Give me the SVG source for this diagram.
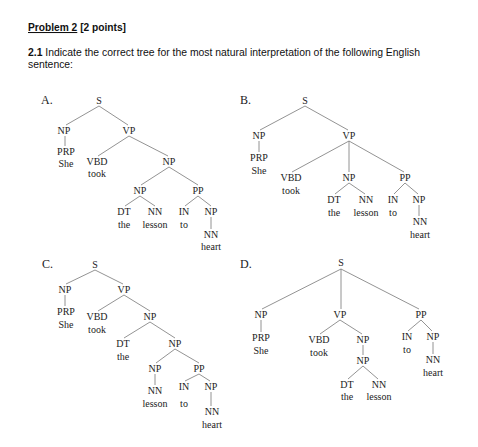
<svg xmlns="http://www.w3.org/2000/svg" width="478" height="447" viewBox="0 0 478 447">
<style>
.h{font-family:"Liberation Sans",Arial,sans-serif;font-size:10.4px;fill:#111}
.b{font-weight:bold}
.t{font-family:"Liberation Serif","Times New Roman",serif;font-size:10px;fill:#222;text-anchor:middle}
.lab{font-family:"Liberation Serif","Times New Roman",serif;font-size:12px;fill:#222}
.e line{stroke:#777;stroke-width:0.8}
</style>
<rect width="478" height="447" fill="#fff"/>
<g id="header">
<text class="h b" x="28" y="31" textLength="98" lengthAdjust="spacingAndGlyphs"><tspan text-decoration="underline">Problem 2</tspan> [2 points]</text>
<text class="h" x="28" y="56" textLength="392" lengthAdjust="spacingAndGlyphs"><tspan class="b">2.1</tspan> Indicate the correct tree for the most natural interpretation of the following English</text>
<text class="h" x="28" y="68" textLength="45" lengthAdjust="spacingAndGlyphs">sentence:</text>
</g>
<g id="connectors" class="e">
<line x1="99" y1="106" x2="66" y2="125"/><line x1="99" y1="106" x2="128" y2="125"/>
<line x1="65" y1="136" x2="65" y2="146"/>
<line x1="129" y1="136" x2="98" y2="156"/><line x1="129" y1="136" x2="168" y2="156"/>
<line x1="169" y1="167" x2="141" y2="185"/><line x1="169" y1="167" x2="198" y2="185"/>
<line x1="140" y1="196" x2="125" y2="206"/><line x1="140" y1="196" x2="155" y2="206"/>
<line x1="198" y1="196" x2="185" y2="206"/><line x1="198" y1="196" x2="211" y2="206"/>
<line x1="211" y1="217" x2="211" y2="229"/>
<line x1="305" y1="106" x2="260" y2="130"/><line x1="305" y1="106" x2="348" y2="130"/>
<line x1="259" y1="141" x2="259" y2="152"/>
<line x1="349" y1="141" x2="292" y2="172"/><line x1="349" y1="141" x2="349" y2="172"/><line x1="349" y1="141" x2="404" y2="172"/>
<line x1="349" y1="183" x2="335" y2="194"/><line x1="349" y1="183" x2="365" y2="194"/>
<line x1="405" y1="183" x2="394" y2="194"/><line x1="405" y1="183" x2="418" y2="194"/>
<line x1="419" y1="205" x2="419" y2="216"/>
<line x1="95" y1="270" x2="66" y2="284"/><line x1="95" y1="270" x2="123" y2="284"/>
<line x1="65" y1="295" x2="65" y2="306"/>
<line x1="124" y1="295" x2="98" y2="311"/><line x1="124" y1="295" x2="150" y2="311"/>
<line x1="150" y1="322" x2="124" y2="338"/><line x1="150" y1="322" x2="175" y2="338"/>
<line x1="175" y1="349" x2="156" y2="363"/><line x1="175" y1="349" x2="199" y2="363"/>
<line x1="155" y1="374" x2="155" y2="385"/>
<line x1="199" y1="374" x2="185" y2="381"/><line x1="199" y1="374" x2="210" y2="381"/>
<line x1="211" y1="392" x2="211" y2="406"/>
<line x1="341" y1="269" x2="262" y2="309"/><line x1="341" y1="269" x2="341" y2="309"/><line x1="341" y1="269" x2="419" y2="309"/>
<line x1="261" y1="320" x2="261" y2="332"/>
<line x1="340" y1="320" x2="320" y2="334"/><line x1="340" y1="320" x2="362" y2="334"/>
<line x1="363" y1="345" x2="363" y2="355"/>
<line x1="363" y1="366" x2="348" y2="379"/><line x1="363" y1="366" x2="378" y2="379"/>
<line x1="421" y1="320" x2="408" y2="331"/><line x1="421" y1="320" x2="432" y2="331"/>
<line x1="433" y1="342" x2="433" y2="354"/>
</g>
<g id="labelA"><text class="lab" x="41" y="104">A.</text></g>
<g id="a-s"><text class="t" x="99" y="104">S</text></g>
<g id="a-np1"><text class="t" x="64" y="134">NP</text></g>
<g id="a-vp"><text class="t" x="129" y="134">VP</text></g>
<g id="a-prp"><text class="t" x="66" y="155">PRP</text><text class="t" x="66" y="167">She</text></g>
<g id="a-vbd"><text class="t" x="97" y="165">VBD</text><text class="t" x="97" y="177">took</text></g>
<g id="a-np2"><text class="t" x="169" y="165">NP</text></g>
<g id="a-np3"><text class="t" x="140" y="194">NP</text></g>
<g id="a-pp"><text class="t" x="198" y="194">PP</text></g>
<g id="a-dt"><text class="t" x="124" y="215">DT</text><text class="t" x="124" y="228">the</text></g>
<g id="a-nn1"><text class="t" x="155" y="215">NN</text><text class="t" x="155" y="228">lesson</text></g>
<g id="a-in"><text class="t" x="184" y="215">IN</text><text class="t" x="184" y="228">to</text></g>
<g id="a-np4"><text class="t" x="211" y="215">NP</text></g>
<g id="a-nn2"><text class="t" x="211" y="238">NN</text><text class="t" x="211" y="250">heart</text></g>

<g id="labelB"><text class="lab" x="240" y="104">B.</text></g>
<g id="b-s"><text class="t" x="305" y="104">S</text></g>
<g id="b-np1"><text class="t" x="259" y="139">NP</text></g>
<g id="b-vp"><text class="t" x="349" y="139">VP</text></g>
<g id="b-prp"><text class="t" x="259" y="161">PRP</text><text class="t" x="259" y="174">She</text></g>
<g id="b-vbd"><text class="t" x="291" y="181">VBD</text><text class="t" x="291" y="194">took</text></g>
<g id="b-np2"><text class="t" x="349" y="181">NP</text></g>
<g id="b-pp"><text class="t" x="405" y="181">PP</text></g>
<g id="b-dt"><text class="t" x="334" y="203">DT</text><text class="t" x="334" y="216">the</text></g>
<g id="b-nn1"><text class="t" x="366" y="203">NN</text><text class="t" x="366" y="216">lesson</text></g>
<g id="b-in"><text class="t" x="393" y="203">IN</text><text class="t" x="393" y="216">to</text></g>
<g id="b-np3"><text class="t" x="419" y="203">NP</text></g>
<g id="b-nn2"><text class="t" x="420" y="225">NN</text><text class="t" x="420" y="238">heart</text></g>

<g id="labelC"><text class="lab" x="42" y="268">C.</text></g>
<g id="c-s"><text class="t" x="95" y="268">S</text></g>
<g id="c-np1"><text class="t" x="65" y="293">NP</text></g>
<g id="c-vp"><text class="t" x="124" y="293">VP</text></g>
<g id="c-prp"><text class="t" x="66" y="315">PRP</text><text class="t" x="66" y="328">She</text></g>
<g id="c-vbd"><text class="t" x="97" y="320">VBD</text><text class="t" x="97" y="333">took</text></g>
<g id="c-np2"><text class="t" x="150" y="320">NP</text></g>
<g id="c-dt"><text class="t" x="123" y="347">DT</text><text class="t" x="123" y="360">the</text></g>
<g id="c-np3"><text class="t" x="175" y="347">NP</text></g>
<g id="c-np4"><text class="t" x="155" y="372">NP</text></g>
<g id="c-pp"><text class="t" x="199" y="372">PP</text></g>
<g id="c-nn1"><text class="t" x="155" y="394">NN</text><text class="t" x="155" y="407">lesson</text></g>
<g id="c-in"><text class="t" x="184" y="390">IN</text><text class="t" x="184" y="407">to</text></g>
<g id="c-np5"><text class="t" x="211" y="390">NP</text></g>
<g id="c-nn2"><text class="t" x="212" y="415">NN</text><text class="t" x="212" y="428">heart</text></g>

<g id="labelD"><text class="lab" x="240" y="268">D.</text></g>
<g id="d-s"><text class="t" x="341" y="266">S</text></g>
<g id="d-np1"><text class="t" x="261" y="318">NP</text></g>
<g id="d-vp"><text class="t" x="340" y="318">VP</text></g>
<g id="d-pp"><text class="t" x="421" y="318">PP</text></g>
<g id="d-prp"><text class="t" x="261" y="341">PRP</text><text class="t" x="261" y="354">She</text></g>
<g id="d-vbd"><text class="t" x="319" y="343">VBD</text><text class="t" x="319" y="356">took</text></g>
<g id="d-np2"><text class="t" x="363" y="343">NP</text></g>
<g id="d-np3"><text class="t" x="363" y="364">NP</text></g>
<g id="d-dt"><text class="t" x="347" y="388">DT</text><text class="t" x="347" y="400">the</text></g>
<g id="d-nn1"><text class="t" x="379" y="388">NN</text><text class="t" x="379" y="400">lesson</text></g>
<g id="d-in"><text class="t" x="407" y="340">IN</text><text class="t" x="407" y="353">to</text></g>
<g id="d-np4"><text class="t" x="433" y="340">NP</text></g>
<g id="d-nn2"><text class="t" x="433" y="363">NN</text><text class="t" x="433" y="376">heart</text></g>
</svg>
